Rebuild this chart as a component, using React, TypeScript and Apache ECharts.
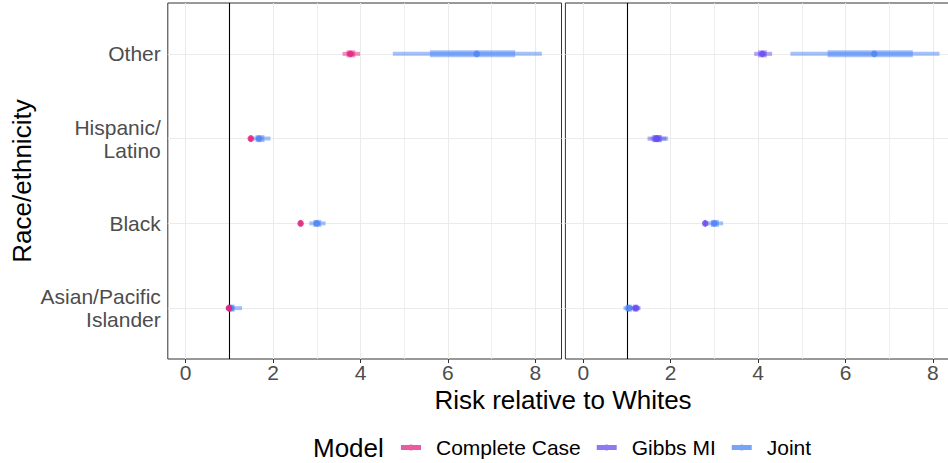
import React, { useEffect, useRef } from "react";
import * as echarts from "echarts";

// ---- data ----
const categories = ["Asian/Pacific\nIslander", "Black", "Hispanic/\nLatino", "Other"];
const catPos = [1, 2, 3, 4];
const xTicks = [0, 2, 4, 6, 8];
const xMinor = [1, 3, 5, 7];
const refLine = 1;

const modelNames = ["Complete Case", "Gibbs MI", "Joint"];

// order per category: Asian, Black, Hispanic, Other
const ccEst = [0.99, 2.63, 1.49, 3.77];
const ccOuterLo = [0.93, 2.58, 1.44, 3.59];
const ccOuterHi = [1.06, 2.68, 1.54, 3.99];
const ccInnerLo = [0.96, 2.6, 1.46, 3.68];
const ccInnerHi = [1.03, 2.66, 1.52, 3.88];

const gibbsEst = [1.2, 2.79, 1.68, 4.1];
const gibbsOuterLo = [1.1, 2.75, 1.47, 3.91];
const gibbsOuterHi = [1.31, 2.83, 1.9, 4.32];
const gibbsInnerLo = [1.14, 2.77, 1.58, 4.0];
const gibbsInnerHi = [1.26, 2.81, 1.78, 4.2];

const jointEst = [1.04, 3.0, 1.68, 6.66];
const jointOuterLo = [0.92, 2.83, 1.54, 4.74];
const jointOuterHi = [1.29, 3.2, 1.94, 8.15];
const jointInnerLo = [0.97, 2.92, 1.6, 5.59];
const jointInnerHi = [1.12, 3.1, 1.8, 7.54];

const colors = { cc: "#E3237F", gibbs: "#6A4BF0", joint: "#4C84F5" };

const FONT = "Liberation Sans, Arial, sans-serif";

function rows(est: number[], oLo: number[], oHi: number[], iLo: number[], iHi: number[]) {
  return est.map((e, i) => [e, oLo[i], oHi[i], iLo[i], iHi[i], catPos[i]]);
}

function intervalSeries(name: string, color: string, data: number[][], gridIdx: number, z: number) {
  return {
    type: "custom",
    name,
    xAxisIndex: gridIdx,
    yAxisIndex: gridIdx,
    itemStyle: { color },
    z,
    encode: { x: [0, 1, 2, 3, 4], y: 5 },
    data,
    renderItem: (params: any, api: any) => {
      const y = api.value(5);
      const pE = api.coord([api.value(0), y]);
      const pOL = api.coord([api.value(1), y]);
      const pOH = api.coord([api.value(2), y]);
      const pIL = api.coord([api.value(3), y]);
      const pIH = api.coord([api.value(4), y]);
      return {
        type: "group",
        children: [
          {
            type: "rect",
            shape: { x: pOL[0], y: pE[1] - 2, width: pOH[0] - pOL[0], height: 4 },
            style: { fill: color, opacity: 0.5 },
          },
          {
            type: "rect",
            shape: { x: pIL[0], y: pE[1] - 3.5, width: pIH[0] - pIL[0], height: 7 },
            style: { fill: color, opacity: 0.5 },
          },
          {
            type: "circle",
            shape: { cx: pE[0], cy: pE[1], r: 3.3 },
            style: { fill: color, opacity: 0.8 },
          },
        ],
      };
    },
  };
}

function gridLineSeries(gridIdx: number) {
  const data: any[] = [];
  xTicks.forEach((v) => data.push({ xAxis: v, lineStyle: { color: "#EBEBEB", width: 1.1, type: "solid" } }));
  xMinor.forEach((v) => data.push({ xAxis: v, lineStyle: { color: "#EBEBEB", width: 0.8, type: "solid" } }));
  catPos.forEach((v) => data.push({ yAxis: v, lineStyle: { color: "#EBEBEB", width: 1.1, type: "solid" } }));
  return {
    type: "line",
    xAxisIndex: gridIdx,
    yAxisIndex: gridIdx,
    data: [],
    z: 1,
    silent: true,
    markLine: {
      silent: true,
      symbol: ["none", "none"],
      label: { show: false },
      data,
    },
  };
}

function refLineSeries(gridIdx: number) {
  return {
    type: "line",
    xAxisIndex: gridIdx,
    yAxisIndex: gridIdx,
    data: [],
    z: 3,
    silent: true,
    markLine: {
      silent: true,
      symbol: ["none", "none"],
      label: { show: false },
      data: [{ xAxis: refLine, lineStyle: { color: "#000000", width: 1.1, type: "solid" } }],
    },
  };
}

const XMIN = -0.41;
const XMAX = 8.6;

export default function App() {
  const ref = useRef<HTMLDivElement>(null);
  useEffect(() => {
    if (!ref.current) return;
    const chart = echarts.init(ref.current, undefined, { renderer: "svg" });
    const gridCommon = {
      top: 3,
      height: 356,
      width: 393.7,
      show: true,
      borderColor: "#333333",
      borderWidth: 1,
      backgroundColor: "#ffffff",
      containLabel: false,
    };
    const xAxisCommon = {
      type: "value",
      min: XMIN,
      max: XMAX,
      splitLine: { show: false },
      axisLine: { show: false },
      axisTick: { show: true, customValues: xTicks, length: 4, lineStyle: { color: "#333333", width: 1 } },
      axisLabel: {
        show: true,
        customValues: xTicks,
        margin: 3,
        color: "#4D4D4D",
        fontSize: 21,
        fontFamily: FONT,
        showMinLabel: true,
        showMaxLabel: true,
      },
    };
    const option: any = {
      animation: false,
      backgroundColor: "#ffffff",
      textStyle: { fontFamily: FONT },
      grid: [
        { ...gridCommon, left: 167.8 },
        { ...gridCommon, left: 565.4 },
      ],
      xAxis: [
        { ...xAxisCommon, gridIndex: 0 },
        { ...xAxisCommon, gridIndex: 1 },
      ],
      yAxis: [
        {
          type: "value",
          gridIndex: 0,
          min: 0.4,
          max: 4.6,
          splitLine: { show: false },
          axisLine: { show: false },
          axisTick: { show: true, customValues: catPos, length: 4, lineStyle: { color: "#333333", width: 1 } },
          axisLabel: {
            show: true,
            customValues: catPos,
            margin: 7,
            color: "#4D4D4D",
            fontSize: 21,
            lineHeight: 23,
            fontFamily: FONT,
            align: "right",
            formatter: (v: number) => categories[Math.round(v) - 1] ?? "",
          },
        },
        {
          type: "value",
          gridIndex: 1,
          min: 0.4,
          max: 4.6,
          splitLine: { show: false },
          axisLine: { show: false },
          axisTick: { show: false },
          axisLabel: { show: false },
        },
      ],
      legend: {
        data: modelNames,
        left: 401,
        top: 437,
        padding: 0,
        orient: "horizontal",
        itemWidth: 20,
        itemHeight: 6,
        itemGap: 16,
        icon: "path://M0,0.5H20V5.5H0Z M13,3A3,3 0 1 1 7,3A3,3 0 1 1 13,3Z",
        itemStyle: { opacity: 0.75 },
        textStyle: { fontSize: 21, color: "#000000", fontFamily: FONT, padding: [0, 0, 0, 10] },
      },
      graphic: [
        {
          type: "text",
          x: 22,
          y: 181,
          rotation: Math.PI / 2,
          style: {
            text: "Race/ethnicity",
            fontSize: 26,
            fontFamily: FONT,
            fill: "#000000",
            align: "center",
            verticalAlign: "middle",
          },
        },
        {
          type: "text",
          x: 563,
          y: 400,
          style: {
            text: "Risk relative to Whites",
            fontSize: 26,
            fontFamily: FONT,
            fill: "#000000",
            align: "center",
            verticalAlign: "middle",
          },
        },
        {
          type: "text",
          x: 313,
          y: 448,
          style: {
            text: "Model",
            fontSize: 26,
            fontFamily: FONT,
            fill: "#000000",
            align: "left",
            verticalAlign: "middle",
          },
        },
      ],
      series: [
        gridLineSeries(0),
        gridLineSeries(1),
        refLineSeries(0),
        refLineSeries(1),
        intervalSeries("Joint", colors.joint, rows(jointEst, jointOuterLo, jointOuterHi, jointInnerLo, jointInnerHi), 0, 5),
        intervalSeries("Joint", colors.joint, rows(jointEst, jointOuterLo, jointOuterHi, jointInnerLo, jointInnerHi), 1, 5),
        intervalSeries("Complete Case", colors.cc, rows(ccEst, ccOuterLo, ccOuterHi, ccInnerLo, ccInnerHi), 0, 6),
        intervalSeries("Gibbs MI", colors.gibbs, rows(gibbsEst, gibbsOuterLo, gibbsOuterHi, gibbsInnerLo, gibbsInnerHi), 1, 6),
      ],
    };
    chart.setOption(option);
    return () => chart.dispose();
  }, []);
  return (
    <div style={{ position: "fixed", left: 0, top: 0, width: 948, height: 463, overflow: "hidden", background: "#fff" }}>
      <div ref={ref} style={{ width: 962, height: 463 }} />
    </div>
  );
}
